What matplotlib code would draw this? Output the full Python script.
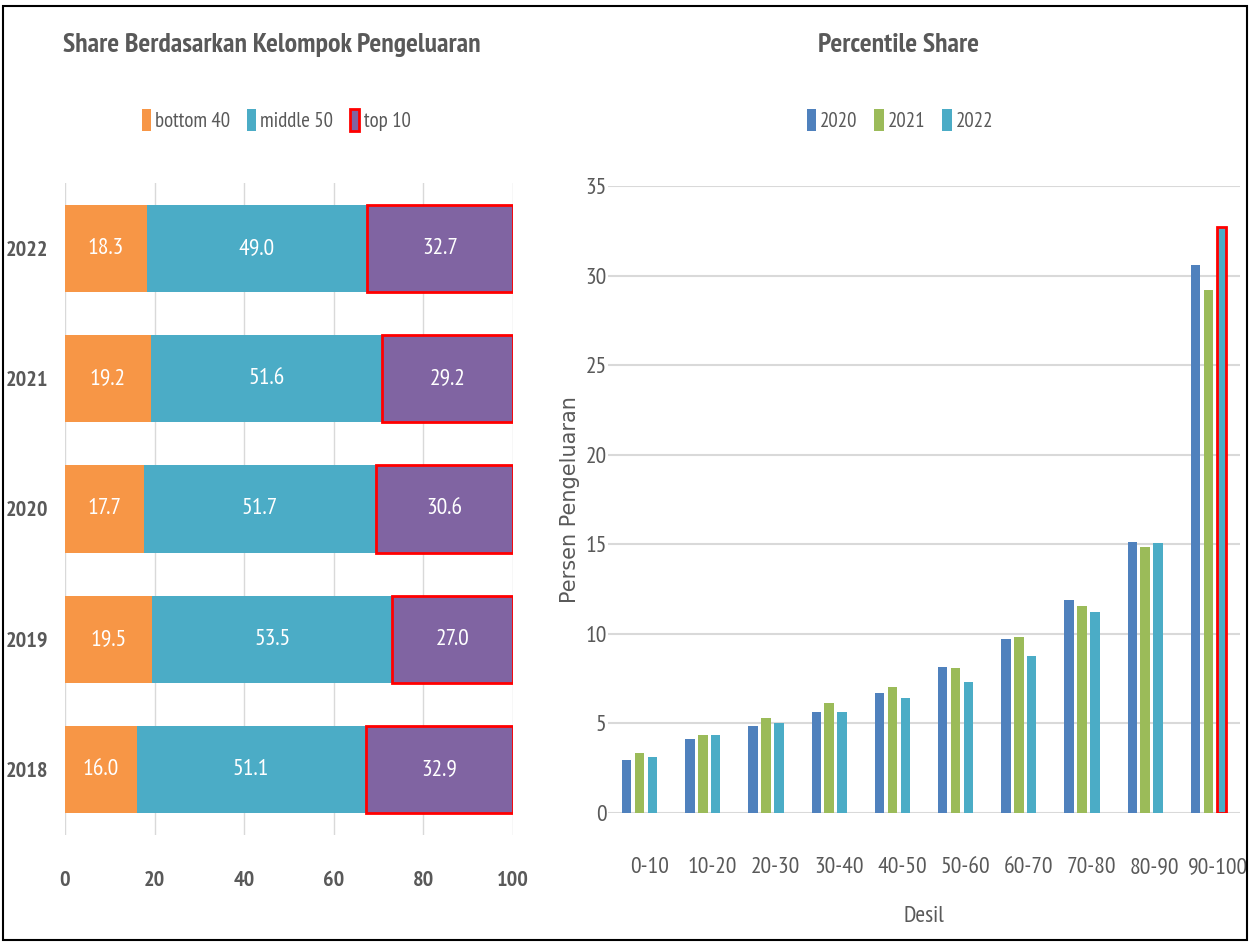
import matplotlib
matplotlib.use("Agg")
import matplotlib.pyplot as plt
import numpy as np
from matplotlib.patches import Patch, Rectangle

plt.rcParams['font.family'] = ['PT Sans Narrow', 'Open Sans Condensed', 'DejaVu Sans']

# left chart data
years = ["2018", "2019", "2020", "2021", "2022"]
bottom40 = [16.0, 19.5, 17.7, 19.2, 18.3]
middle50 = [51.1, 53.5, 51.7, 51.6, 49.0]
top10 = [32.9, 27.0, 30.6, 29.2, 32.7]

# right chart data
deciles = ["0-10", "10-20", "20-30", "30-40", "40-50", "50-60", "60-70", "70-80", "80-90", "90-100"]
share_2020 = [2.96, 4.13, 4.87, 5.65, 6.69, 8.15, 9.69, 11.87, 15.11, 30.6]
share_2021 = [3.33, 4.37, 5.30, 6.13, 7.06, 8.09, 9.80, 11.57, 14.85, 29.2]
share_2022 = [3.15, 4.37, 5.04, 5.65, 6.44, 7.30, 8.76, 11.20, 15.06, 32.7]

orange = "#F79646"
teal = "#4BACC6"
purple = "#8064A2"
blue = "#4F81BD"
green = "#9BBB59"
grey = "#595959"
W, H = 1252, 943

fig = plt.figure(figsize=(12.52, 9.43), dpi=100)
fig.patches.append(Rectangle((3 / W, 3 / H), 1244 / W, 934 / H, transform=fig.transFigure,
                             fill=False, edgecolor="black", linewidth=1.5))

# ---- left: stacked horizontal bars
ax1 = fig.add_axes([65 / W, 1 - 835 / H, 448 / W, 652 / H])
y = np.arange(len(years))
h = 0.67
b1 = ax1.barh(y, bottom40, height=h, color=orange)
b2 = ax1.barh(y, middle50, left=bottom40, height=h, color=teal)
left3 = np.array(bottom40) + np.array(middle50)
b3 = ax1.barh(y, top10, left=left3, height=h, color=purple, edgecolor="red", linewidth=2)
for bars, vals in [(b1, bottom40), (b2, middle50), (b3, top10)]:
    ax1.bar_label(bars, labels=[f"{v:.1f}" for v in vals], label_type="center",
                  color="white", fontsize=17)
ax1.set_xlim(0, 100)
ax1.set_ylim(-0.5, 4.5)
ax1.set_yticks(y, years)
ax1.set_xticks(range(0, 101, 20))
ax1.grid(axis="x", color="#d9d9d9", linewidth=1)
ax1.set_axisbelow(True)
for s in ax1.spines.values():
    s.set_visible(False)
ax1.tick_params(length=0, labelsize=16, colors=grey, pad=12)
for t in ax1.get_xticklabels() + ax1.get_yticklabels():
    t.set_fontweight("bold")
ax1.tick_params(axis="x", pad=26)

fig.text(272 / W, 1 - 45 / H, "Share Berdasarkan Kelompok Pengeluaran", ha="center", va="center",
         fontsize=20, fontweight="bold", color=grey)
fig.legend(handles=[Patch(facecolor=orange, label="bottom 40"),
                    Patch(facecolor=teal, label="middle 50"),
                    Patch(facecolor=purple, edgecolor="red", linewidth=2, label="top 10")],
           loc="center", bbox_to_anchor=(276 / W, 1 - 120 / H), ncol=3, frameon=False,
           fontsize=15, handlelength=0.45, handleheight=1.2, handletextpad=0.2, columnspacing=0.8,
           labelcolor=grey)

# ---- right: grouped bars
ax2 = fig.add_axes([608 / W, 1 - 813 / H, 632 / W, 627 / H])
x = np.arange(len(deciles))
bw = 0.15
step = 0.205
ax2.bar(x - step, share_2020, bw, color=blue, label="2020")
ax2.bar(x, share_2021, bw, color=green, label="2021")
bars22 = ax2.bar(x + step, share_2022, bw, color=teal, label="2022")
bars22[-1].set_edgecolor("red")
bars22[-1].set_linewidth(2)
ax2.set_xlim(-0.5, 9.5)
ax2.set_ylim(0, 35)
ax2.set_yticks(range(0, 36, 5))
ax2.set_xticks(x + 0.15, deciles)
ax2.grid(axis="y", color="#d9d9d9", linewidth=1.5)
ax2.set_axisbelow(True)
for s in ax2.spines.values():
    s.set_visible(False)
ax2.tick_params(length=0, labelsize=17, colors=grey)
ax2.tick_params(axis="x", pad=32)
ax2.tick_params(axis="y", pad=1)
ax2.set_xlabel("Desil", fontsize=17, color=grey, labelpad=20)
ax2.set_ylabel("Persen Pengeluaran", fontsize=15, color=grey, labelpad=4,
               family="DejaVu Sans")

fig.text(898 / W, 1 - 45 / H, "Percentile Share", ha="center", va="center",
         fontsize=20, fontweight="bold", color=grey)
h2, l2 = ax2.get_legend_handles_labels()
fig.legend(h2, l2, loc="center", bbox_to_anchor=(900 / W, 1 - 120 / H), ncol=3, frameon=False,
           fontsize=15, handlelength=0.45, handleheight=1.2, handletextpad=0.2, columnspacing=0.8,
           labelcolor=grey)

fig.savefig("out.png", dpi=100)
